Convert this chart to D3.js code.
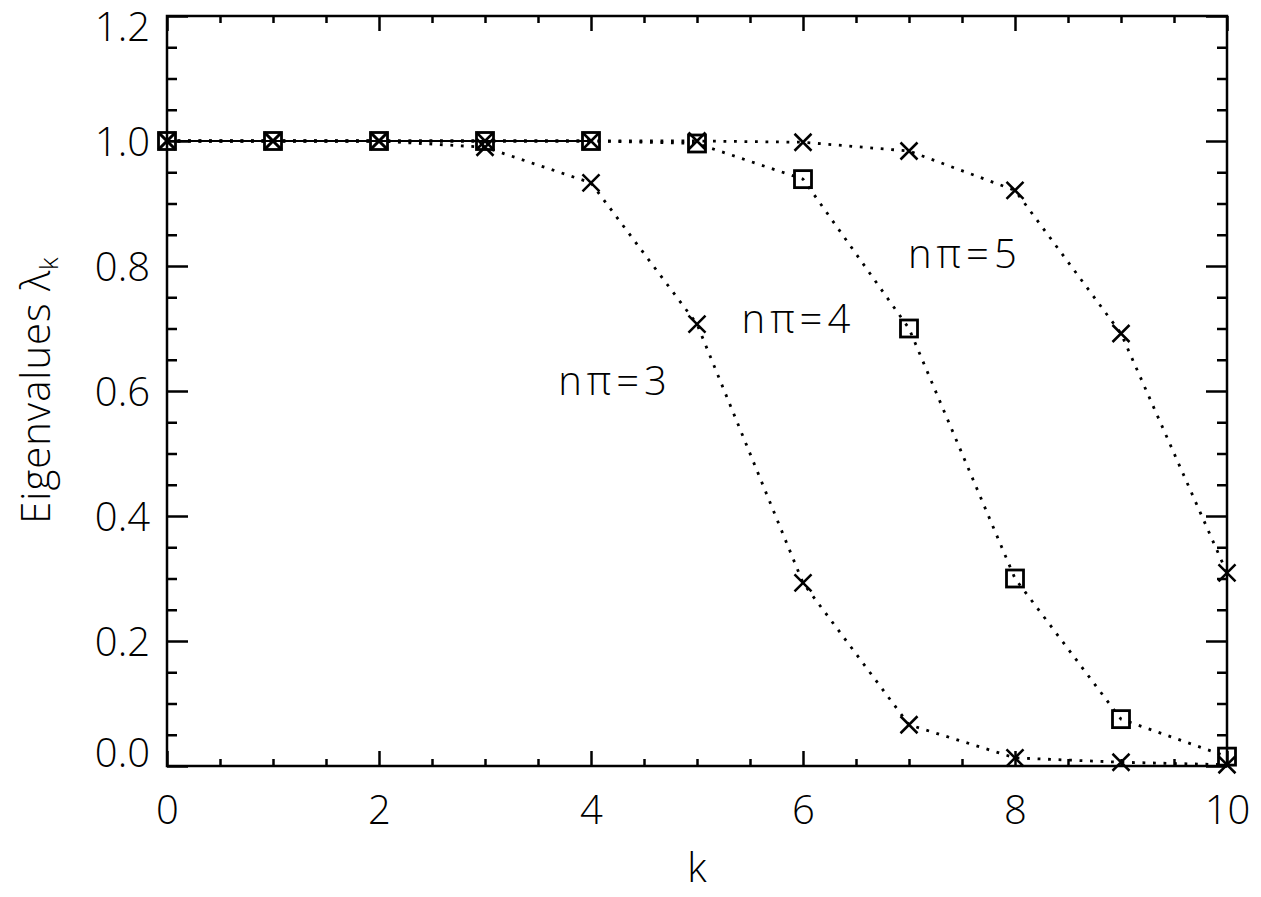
<!DOCTYPE html>
<html>
<head>
<meta charset="utf-8">
<script src="https://cdn.jsdelivr.net/npm/d3@7"></script>
<style>
  body { margin: 0; background: #fff; }
  svg { display: block; }
  text { font-family: 'Open Sans', 'DejaVu Sans', sans-serif; font-weight: 300; fill: #000; }
</style>
</head>
<body>
<svg id="chart" width="1261" height="897"></svg>
<script>
// k index
const kValues = [0, 1, 2, 3, 4, 5, 6, 7, 8, 9, 10];
// eigenvalues
const np3 = [1.0, 1.0, 1.0, 0.990, 0.933, 0.707, 0.293, 0.066, 0.013, 0.006, 0.002];
const np4 = [1.0, 1.0, 1.0, 1.0, 1.0, 0.996, 0.939, 0.700, 0.300, 0.075, 0.015];
const np5 = [1.0, 1.0, 1.0, 1.0, 1.0, 1.0, 0.998, 0.984, 0.921, 0.692, 0.309];
// solid plateau segment at the start
const plateauK = [0, 1, 2, 3, 4];
const plateauVal = [1, 1, 1, 1, 1];

const xTicks = [0, 2, 4, 6, 8, 10];
const yTicks = [0.0, 0.2, 0.4, 0.6, 0.8, 1.0, 1.2];

const labels = [
  { text: 'n\u03c0=3', k: 3.69, v: 0.594 },
  { text: 'n\u03c0=4', k: 5.42, v: 0.693 },
  { text: 'n\u03c0=5', k: 6.99, v: 0.797 }
];

const margin = { top: 16, right: 34, bottom: 131, left: 167 };
const width = 1261 - margin.left - margin.right;
const height = 897 - margin.top - margin.bottom;

const svg = d3.select('#chart');
const g = svg.append('g')
  .attr('transform', 'translate(' + margin.left + ',' + margin.top + ')');

const x = d3.scaleLinear().domain([0, 10]).range([0, width]);
const y = d3.scaleLinear().domain([0, 1.2]).range([height, 0]);

const xMinor = d3.range(0, 10.01, 0.5).filter(d => d % 2 !== 0);
const yMinor = d3.range(0, 1.201, 0.05).filter(d => Math.abs(d / 0.2 - Math.round(d / 0.2)) > 0.01);

// axes, ticks inward on all four sides
function drawAxis(axisFn, scale, values, size, transform, showLabels, fmt) {
  const ax = g.append('g')
    .attr('transform', transform)
    .call(axisFn(scale).tickValues(values).tickSize(-size).tickSizeOuter(0)
      .tickFormat(showLabels ? fmt : ''));
  ax.select('.domain').remove();
  ax.selectAll('line').attr('stroke', '#000').attr('stroke-width', 2.5);
  return ax;
}

const bx = drawAxis(d3.axisBottom, x, xTicks, 15, 'translate(0,' + height + ')', true, d3.format('d'));
drawAxis(d3.axisBottom, x, xMinor, 7, 'translate(0,' + height + ')', false);
drawAxis(d3.axisTop, x, xTicks, 15, 'translate(0,0)', false);
drawAxis(d3.axisTop, x, xMinor, 7, 'translate(0,0)', false);
const ly = drawAxis(d3.axisLeft, y, yTicks, 21, 'translate(0,0)', true, d3.format('.1f'));
drawAxis(d3.axisLeft, y, yMinor, 10, 'translate(0,0)', false);
drawAxis(d3.axisRight, y, yTicks, 21, 'translate(' + width + ',0)', false);
drawAxis(d3.axisRight, y, yMinor, 10, 'translate(' + width + ',0)', false);

bx.selectAll('text')
  .attr('font-size', 40)
  .attr('y', 30)
  .attr('dy', '0.71em');
// end labels are pulled inside the frame, as in the original
ly.selectAll('text')
  .attr('font-size', 40)
  .attr('x', -17)
  .attr('dy', d => d === 0 ? '0.0em' : (d === 1.2 ? '0.62em' : '0.36em'));

// frame
g.append('rect')
  .attr('x', 0).attr('y', 0)
  .attr('width', width).attr('height', height)
  .attr('fill', 'none')
  .attr('stroke', '#000')
  .attr('stroke-width', 2.5);

// lines
const line = d3.line()
  .x(d => x(d[0]))
  .y(d => y(d[1]));

const series = [
  { vals: np3, marker: 'cross' },
  { vals: np4, marker: 'square' },
  { vals: np5, marker: 'cross' }
];

series.forEach(s => {
  g.append('path')
    .datum(kValues.map((k, i) => [k, s.vals[i]]))
    .attr('fill', 'none')
    .attr('stroke', '#000')
    .attr('stroke-width', 2.8)
    .attr('stroke-dasharray', '2.8,7.7')
    .attr('d', line);
});

g.append('path')
  .datum(plateauK.map((k, i) => [k, plateauVal[i]]))
  .attr('fill', 'none')
  .attr('stroke', '#000')
  .attr('stroke-width', 2)
  .attr('d', line);

// markers
series.forEach(s => {
  const pts = g.append('g').selectAll('g')
    .data(kValues.map((k, i) => [k, s.vals[i]]))
    .enter().append('g')
    .attr('transform', d => 'translate(' + x(d[0]) + ',' + y(d[1]) + ')');
  if (s.marker === 'square') {
    pts.append('rect')
      .attr('x', -8.5).attr('y', -8.5)
      .attr('width', 17).attr('height', 17)
      .attr('fill', 'none')
      .attr('stroke', '#000')
      .attr('stroke-width', 2.8);
  } else {
    pts.append('path')
      .attr('d', 'M-8.5,-8.5L8.5,8.5M-8.5,8.5L8.5,-8.5')
      .attr('fill', 'none')
      .attr('stroke', '#000')
      .attr('stroke-width', 2.5);
  }
});

// curve labels
g.selectAll('.curve-label')
  .data(labels)
  .enter().append('text')
  .attr('class', 'curve-label')
  .attr('x', d => x(d.k))
  .attr('y', d => y(d.v))
  .attr('font-size', 40)
  .attr('letter-spacing', 5)
  .text(d => d.text);

// axis titles
svg.append('text')
  .attr('x', margin.left + width / 2)
  .attr('y', 882)
  .attr('text-anchor', 'middle')
  .attr('font-size', 40)
  .text('k');

const yt = svg.append('text')
  .attr('transform', 'translate(50,390) rotate(-90)')
  .attr('text-anchor', 'middle')
  .attr('font-size', 40)
  .attr('letter-spacing', 1);
yt.append('tspan').text('Eigenvalues \u03bb');
yt.append('tspan').attr('font-size', 26).attr('dy', 8).text('k');
</script>
</body>
</html>
